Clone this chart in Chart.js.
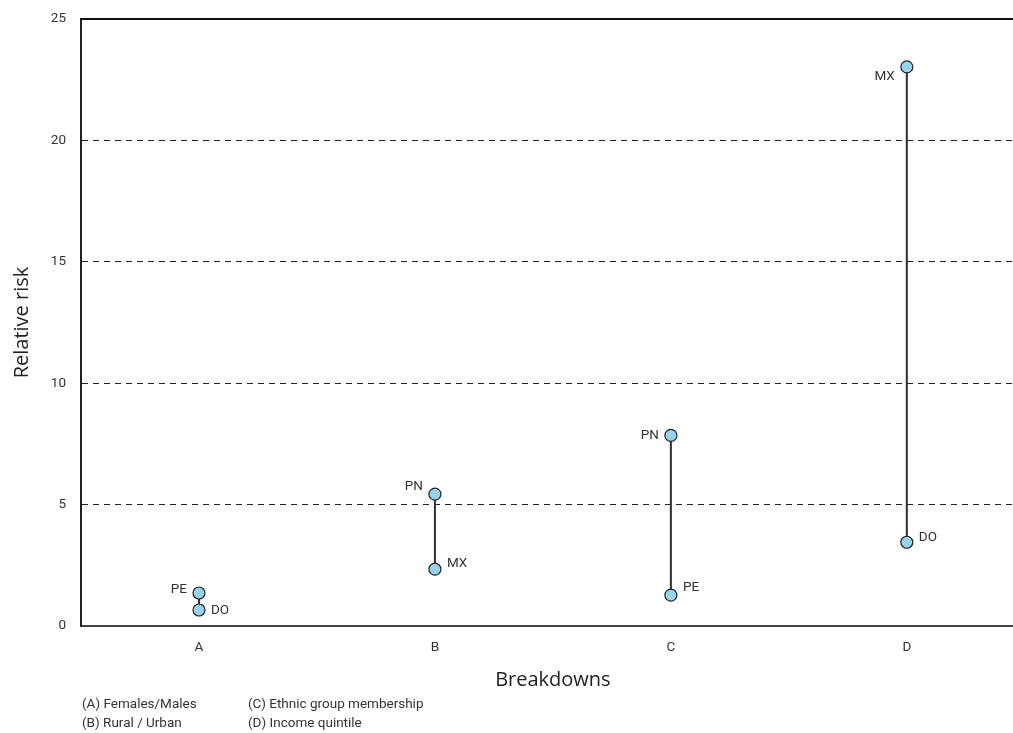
<!DOCTYPE html>
<html>
<head>
<meta charset="utf-8">
<script src="https://cdn.jsdelivr.net/npm/chart.js@4/dist/chart.umd.min.js"></script>
<style>
  html, body { margin: 0; padding: 0; background: #fff; overflow: hidden; }
  #wrap { position: relative; top: -4px; width: 1032px; height: 737px; }
  .note { position: absolute; font-family: Roboto, sans-serif; font-size: 13.5px; color: #333; white-space: nowrap; }
</style>
</head>
<body>
<div id="wrap">
  <canvas id="chart" width="1032" height="737"></canvas>
  <div class="note" style="left:82px; top:699px;">(A) Females/Males</div>
  <div class="note" style="left:82px; top:718px;">(B) Rural / Urban</div>
  <div class="note" style="left:248px; top:699px;">(C) Ethnic group membership</div>
  <div class="note" style="left:248px; top:718px;">(D) Income quintile</div>
</div>
<script>
// data
var categories = ["A", "B", "C", "D"];
var highValues = [1.36, 5.43, 7.85, 23.03];
var lowValues = [0.66, 2.34, 1.27, 3.45];
var highLabels = ["PE", "PN", "PN", "MX"];
var lowLabels = ["DO", "MX", "PE", "DO"];
var yTicks = [0, 5, 10, 15, 20, 25];

var narrow = "Roboto, sans-serif";

// vertical nudges for the country labels
var highDy = [-3, -8, 0, 10];
var lowDy = [1, -6, -8, -5];

var labelPlugin = {
    id: "pointLabels",
    afterDatasetsDraw: function(chart) {
        var ctx = chart.ctx;
        var x = chart.scales.x, y = chart.scales.y;
        ctx.save();
        ctx.font = "13.5px " + narrow;
        ctx.fillStyle = "#333";
        ctx.textBaseline = "middle";
        categories.forEach(function(c, i) {
            var px = x.getPixelForValue(i);
            ctx.textAlign = "right";
            ctx.fillText(highLabels[i], px - 12, y.getPixelForValue(highValues[i]) + highDy[i]);
            ctx.textAlign = "left";
            ctx.fillText(lowLabels[i], px + 12, y.getPixelForValue(lowValues[i]) + lowDy[i]);
        });
        // top frame line
        var a = chart.chartArea;
        ctx.strokeStyle = "#111";
        ctx.lineWidth = 2;
        ctx.beginPath();
        ctx.moveTo(a.left - 1, a.top);
        ctx.lineTo(a.right, a.top);
        ctx.stroke();
        ctx.restore();
    }
};

var ranges = highValues.map(function(h, i) { return [lowValues[i], h]; });

var pointStyle = {
    type: "line",
    showLine: false,
    pointRadius: 6,
    pointHoverRadius: 6,
    pointBackgroundColor: "#98d3ee",
    pointBorderColor: "#222",
    pointBorderWidth: 1.2,
    order: 0
};

var chart = new Chart(document.getElementById("chart"), {
    data: {
        labels: categories,
        datasets: [
            {
                type: "bar",
                data: ranges,
                backgroundColor: "#333",
                barThickness: 1.4,
                order: 2
            },
            Object.assign({ data: highValues }, pointStyle),
            Object.assign({ data: lowValues }, pointStyle)
        ]
    },
    options: {
        responsive: false,
        animation: false,
        layout: { padding: { top: 9, right: 0, left: 0, bottom: 0 } },
        plugins: {
            legend: { display: false },
            tooltip: { enabled: false }
        },
        scales: {
            x: {
                grid: { display: false },
                border: { display: true, color: "#444", width: 2 },
                ticks: { color: "#333", padding: 6, font: { family: narrow, size: 13.5 } },
                title: {
                    display: true,
                    text: "Breakdowns",
                    color: "#222",
                    font: { family: "'Open Sans', sans-serif", size: 20 },
                    padding: { top: 41, bottom: 41 }
                },
                afterFit: function(scale) { scale.height = 107; }
            },
            y: {
                min: 0,
                max: 25,
                afterBuildTicks: function(scale) {
                    scale.ticks = yTicks.map(function(v) { return { value: v }; });
                },
                grid: {
                    drawTicks: false,
                    color: function(c) {
                        return (c.tick && (c.tick.value === 0 || c.tick.value === 25)) ? "rgba(0,0,0,0)" : "#222";
                    },
                    lineWidth: 1
                },
                border: { display: true, color: "#222", width: 2, dash: [6, 5] },
                ticks: { color: "#333", padding: 15, font: { family: narrow, size: 13.5 } },
                title: {
                    display: true,
                    text: "Relative risk",
                    color: "#222",
                    font: { family: "'Open Sans', sans-serif", size: 20 },
                    padding: { top: 10, bottom: 10 }
                },
                afterFit: function(scale) { scale.width = 81; }
            }
        }
    },
    plugins: [labelPlugin]
});
</script>
</body>
</html>
